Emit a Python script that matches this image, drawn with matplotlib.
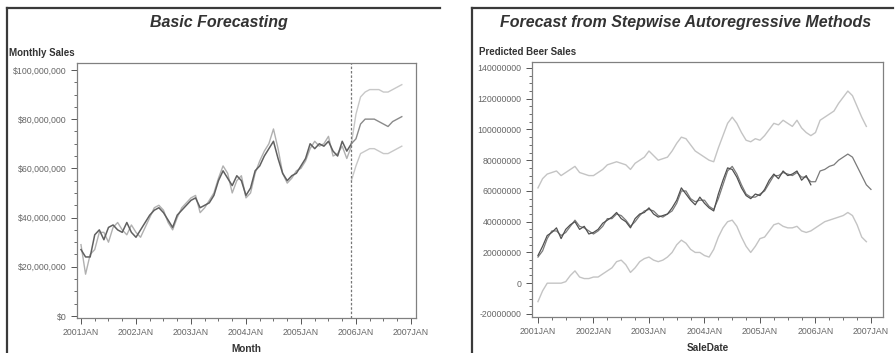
import matplotlib
matplotlib.use("Agg")
import matplotlib.pyplot as plt
import numpy as np
from matplotlib.lines import Line2D
from matplotlib.ticker import FixedLocator, FuncFormatter, MultipleLocator

plt.rcParams['font.family'] = ['Liberation Sans', 'DejaVu Sans']

# ---------------- data (values in millions) ----------------
year_labels = ["2001JAN", "2002JAN", "2003JAN", "2004JAN", "2005JAN", "2006JAN", "2007JAN"]

# Left chart: Basic Forecasting (2001JAN .. 2005DEC actual, forecast 2005DEC .. 2006NOV)
basic_actual = [27, 24, 24, 33, 35, 31, 36, 37, 35, 34, 38, 34,
                32, 35, 38, 41, 43, 44, 42, 39, 36, 41, 43, 45,
                47, 48, 44, 45, 46, 49, 55, 59, 56, 53, 57, 55,
                49, 52, 59, 61, 65, 68, 71, 64, 58, 55, 57, 58,
                61, 64, 70, 68, 70, 69, 71, 67, 65, 71, 67, 70]
basic_pred = [29, 17, 25, 27, 34, 34, 30, 36, 38, 35, 33, 37,
              34, 32, 36, 40, 44, 45, 43, 38, 35, 40, 44, 46,
              48, 49, 42, 44, 47, 50, 56, 61, 58, 50, 55, 57,
              48, 50, 58, 63, 67, 70, 76, 68, 58, 54, 56, 59,
              60, 63, 68, 71, 69, 70, 73, 65, 66, 69, 64, 69]
basic_fcst = [70, 72, 78, 80, 80, 80, 79, 78, 77, 79, 80, 81]
basic_upper = [70, 82, 89, 91, 92, 92, 92, 91, 91, 92, 93, 94]
basic_lower = [55, 61, 66, 67, 68, 68, 67, 66, 66, 67, 68, 69]

# Right chart: Stepwise Autoregressive (2001JAN .. 2007JAN)
ar_actual = [18, 24, 31, 33, 36, 29, 35, 38, 40, 35, 37, 32,
             33, 35, 39, 41, 43, 46, 42, 40, 36, 42, 45, 46,
             49, 45, 43, 44, 45, 49, 54, 62, 58, 54, 51, 56,
             52, 49, 47, 58, 67, 75, 74, 69, 62, 57, 55, 58,
             57, 61, 67, 71, 68, 73, 70, 71, 73, 67, 70, 64]
ar_pred = [17, 21, 29, 34, 34, 31, 33, 37, 41, 37, 36, 34,
           32, 34, 37, 42, 42, 45, 44, 41, 37, 40, 44, 47,
           48, 47, 44, 43, 45, 47, 52, 60, 60, 55, 53, 54,
           54, 50, 48, 55, 64, 73, 76, 71, 64, 58, 56, 56,
           58, 60, 65, 70, 70, 72, 71, 70, 72, 69, 69, 66,
           66, 73, 74, 76, 77, 80, 82, 84, 82, 76, 70, 64, 61]
ar_upper = [62, 68, 71, 72, 73, 70, 72, 74, 76, 72, 71, 70,
            70, 72, 74, 77, 78, 79, 78, 77, 74, 78, 80, 82,
            86, 83, 80, 81, 82, 86, 91, 95, 94, 90, 86, 84,
            82, 80, 79, 88, 96, 104, 108, 104, 98, 93, 92, 94,
            93, 96, 100, 104, 103, 106, 104, 102, 106, 101, 98, 96,
            98, 106, 108, 110, 112, 117, 121, 125, 122, 115, 108, 102]
ar_lower = [-12, -5, 0, 0, 0, 0, 1, 5, 8, 4, 3, 3,
            4, 4, 6, 8, 10, 14, 15, 12, 7, 10, 14, 16,
            17, 15, 14, 15, 17, 20, 25, 28, 26, 22, 20, 20,
            18, 17, 22, 30, 36, 40, 41, 37, 30, 24, 20, 24,
            29, 30, 34, 38, 39, 37, 36, 36, 37, 34, 33, 34,
            36, 38, 40, 41, 42, 43, 44, 46, 44, 38, 30, 27]

M = 1e6
W, H = 896, 353
fig = plt.figure(figsize=(W / 100, H / 100), dpi=100)
fig.patch.set_facecolor("white")

def fx(px):
    return px / W

def fy(py):
    return 1 - py / H

# panel borders (top and left edges)
for x0, x1 in [(7, 440), (472, 893)]:
    fig.add_artist(Line2D([fx(x0), fx(x1)], [fy(8), fy(8)], color="#3a3a3a", lw=1.6))
    fig.add_artist(Line2D([fx(x0), fx(x0)], [fy(8), fy(353)], color="#3a3a3a", lw=1.6))

tick_col = "#555555"
frame_col = "#808080"

def style_axes(ax):
    for s in ax.spines.values():
        s.set_color(frame_col)
        s.set_linewidth(0.9)
    ax.tick_params(axis="both", which="major", colors=tick_col, labelsize=6.3,
                   length=4, width=0.7, labelcolor="#666666")
    ax.tick_params(axis="both", which="minor", colors=tick_col, length=2.5, width=0.6)
    ax.set_xticks(np.arange(0, 73, 12))
    ax.set_xticklabels(year_labels)
    ax.xaxis.set_minor_locator(MultipleLocator(3))

# ---------------- left chart ----------------
ax1 = fig.add_axes([fx(77), fy(318), fx(416) - fx(77), fy(63) - fy(318)])
n_hist = len(basic_actual)
xh = np.arange(n_hist)
xf = np.arange(n_hist - 1, n_hist - 1 + len(basic_fcst))
ax1.plot(xh, np.array(basic_pred) * M, color="#b0b0b0", lw=1.0)
ax1.plot(xh, np.array(basic_actual) * M, color="#606060", lw=1.1)
ax1.plot(xf, np.array(basic_upper) * M, color="#c8c8c8", lw=1.0)
ax1.plot(xf, np.array(basic_lower) * M, color="#c8c8c8", lw=1.0)
ax1.plot(xf, np.array(basic_fcst) * M, color="#8a8a8a", lw=1.0)
ax1.axvline(n_hist - 1, color="#777777", lw=0.9, ls=(0, (2, 1.5)))
ax1.set_xlim(-0.87, 73.1)
ax1.set_ylim(-0.8 * M, 102.8 * M)
ax1.yaxis.set_major_locator(FixedLocator(np.arange(0, 101, 20) * M))
ax1.yaxis.set_minor_locator(MultipleLocator(5 * M))
ax1.yaxis.set_major_formatter(FuncFormatter(lambda v, p: "${:,.0f}".format(v)))
style_axes(ax1)
ax1.set_xlabel("Month", fontsize=7.2, fontweight="bold", color="#333333", labelpad=5)
fig.text(fx(9), fy(53), "Monthly Sales", fontsize=7, fontweight="bold",
         color="#333333", ha="left", va="center")
fig.text(fx(219), fy(23), "Basic Forecasting", fontsize=11.5, fontweight="bold",
         fontstyle="italic", color="#333333", ha="center", va="center")

# ---------------- right chart ----------------
ax2 = fig.add_axes([fx(532), fy(317), fx(883) - fx(532), fy(62) - fy(317)])
xa = np.arange(len(ar_actual))
xp = np.arange(len(ar_pred))
xb = np.arange(len(ar_upper))
ax2.plot(xb, np.array(ar_upper) * M, color="#c4c4c4", lw=1.0)
ax2.plot(xb, np.array(ar_lower) * M, color="#c4c4c4", lw=1.0)
ax2.plot(xp, np.array(ar_pred) * M, color="#7a7a7a", lw=0.9)
ax2.plot(xa, np.array(ar_actual) * M, color="#505050", lw=0.9)
ax2.set_xlim(-1.29, 74.6)
ax2.set_ylim(-22 * M, 143.9 * M)
ax2.yaxis.set_major_locator(FixedLocator(np.arange(-20, 141, 20) * M))
ax2.yaxis.set_minor_locator(MultipleLocator(5 * M))
ax2.yaxis.set_major_formatter(FuncFormatter(lambda v, p: "{:.0f}".format(v)))
style_axes(ax2)
ax2.set_xlabel("SaleDate", fontsize=7.2, fontweight="bold", color="#333333", labelpad=5)
fig.text(fx(479), fy(52), "Predicted Beer Sales", fontsize=7, fontweight="bold",
         color="#333333", ha="left", va="center")
fig.text(fx(686), fy(23), "Forecast from Stepwise Autoregressive Methods", fontsize=11.5,
         fontweight="bold", fontstyle="italic", color="#333333", ha="center", va="center")

fig.savefig("out.png", dpi=100, facecolor="white")
